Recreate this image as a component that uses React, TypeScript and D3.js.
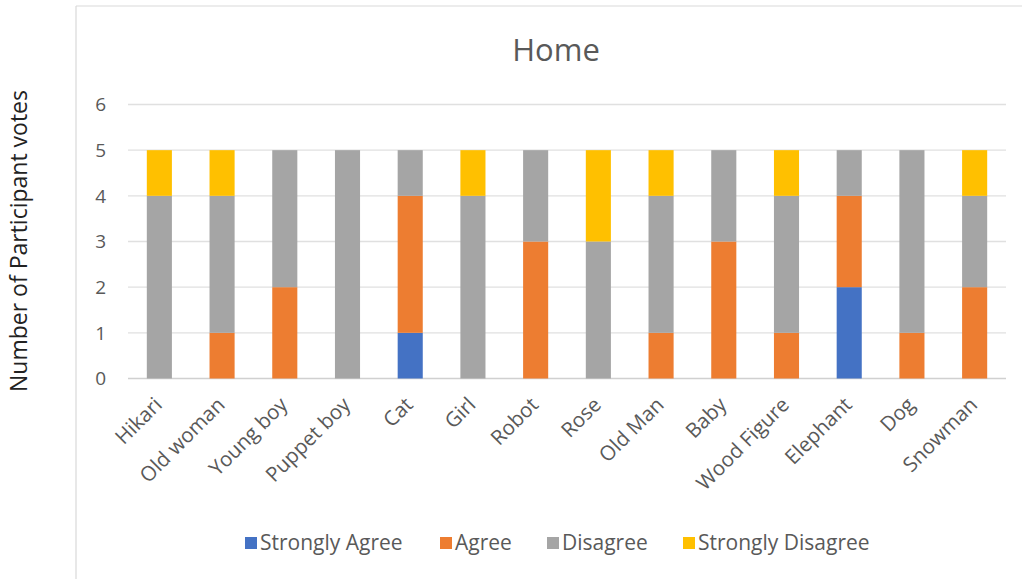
import React from "react";
import * as d3 from "d3";

const categories = [
  "Hikari", "Old woman", "Young boy", "Puppet boy", "Cat", "Girl", "Robot",
  "Rose", "Old Man", "Baby", "Wood Figure", "Elephant", "Dog", "Snowman",
];
const seriesNames = ["Strongly Agree", "Agree", "Disagree", "Strongly Disagree"];
const stronglyAgree = [0, 0, 0, 0, 1, 0, 0, 0, 0, 0, 0, 2, 0, 0];
const agree = [0, 1, 2, 0, 3, 0, 3, 0, 1, 3, 1, 2, 1, 2];
const disagree = [4, 3, 3, 5, 1, 4, 2, 3, 3, 2, 3, 1, 4, 2];
const stronglyDisagree = [1, 1, 0, 0, 0, 1, 0, 2, 1, 0, 1, 0, 0, 1];
const yTicks = [0, 1, 2, 3, 4, 5, 6];
const colors = ["#4472C4", "#ED7D31", "#A5A5A5", "#FFC000"];

const W = 1022;
const H = 579;
const FONT = "'Open Sans', 'Noto Sans', sans-serif";

export default function App() {
  const rows = categories.map((c, i) => ({
    cat: c,
    [seriesNames[0]]: stronglyAgree[i],
    [seriesNames[1]]: agree[i],
    [seriesNames[2]]: disagree[i],
    [seriesNames[3]]: stronglyDisagree[i],
  }));
  const stack = d3.stack<any>().keys(seriesNames)(rows);

  const x = d3.scaleBand().domain(categories).range([128, 1006]).paddingInner(0.6).paddingOuter(0.3);
  const y = d3.scaleLinear().domain([0, 6]).range([378.5, 104.5]);

  const legendItems = [
    { x: 245, label: seriesNames[0] },
    { x: 440, label: seriesNames[1] },
    { x: 547, label: seriesNames[2] },
    { x: 683, label: seriesNames[3] },
  ];

  return (
    <svg
      width={W}
      height={H}
      style={{ position: "absolute", left: 0, top: 0, background: "#fff" }}
      fontFamily={FONT}
    >
      {/* chart frame */}
      <line x1={76} y1={6} x2={W} y2={6} stroke="#D9D9D9" strokeWidth={1.2} />
      <line x1={76} y1={6} x2={76} y2={H} stroke="#D9D9D9" strokeWidth={1.2} />

      <text x={556} y={61} textAnchor="middle" fontSize={31} fill="#595959">Home</text>

      <text
        transform={`translate(27,241) rotate(-90)`}
        textAnchor="middle"
        fontSize={23}
        fill="#222"
      >
        Number of Participant votes
      </text>

      {/* gridlines */}
      {yTicks.map((t) => (
        <g key={t}>
          <line x1={128} x2={1006} y1={y(t)} y2={y(t)} stroke={t === 0 ? "#D0D0D0" : "#E0E0E0"} strokeWidth={1.3} />
          <text x={106} y={y(t)} dy="0.36em" textAnchor="end" fontSize={19} fill="#595959">{t}</text>
        </g>
      ))}

      {/* stacked bars */}
      {stack.map((s, si) => (
        <g key={s.key} fill={colors[si]}>
          {s.map((d, i) =>
            d[1] > d[0] ? (
              <rect
                key={i}
                x={x(categories[i])}
                width={x.bandwidth()}
                y={y(d[1])}
                height={y(d[0]) - y(d[1])}
              />
            ) : null
          )}
        </g>
      ))}

      {/* category labels */}
      {categories.map((c) => (
        <text
          key={c}
          transform={`translate(${(x(c) as number) + x.bandwidth() / 2 + 4},${406}) rotate(-45)`}
          textAnchor="end"
          fontSize={20.5}
          fill="#595959"
        >
          {c}
        </text>
      ))}

      {/* legend */}
      {legendItems.map((l, i) => (
        <g key={l.label}>
          <rect x={l.x} y={537} width={12} height={12} fill={colors[i]} />
          <text x={l.x + 15} y={543} dy="0.35em" fontSize={21} fill="#595959">{l.label}</text>
        </g>
      ))}
    </svg>
  );
}
